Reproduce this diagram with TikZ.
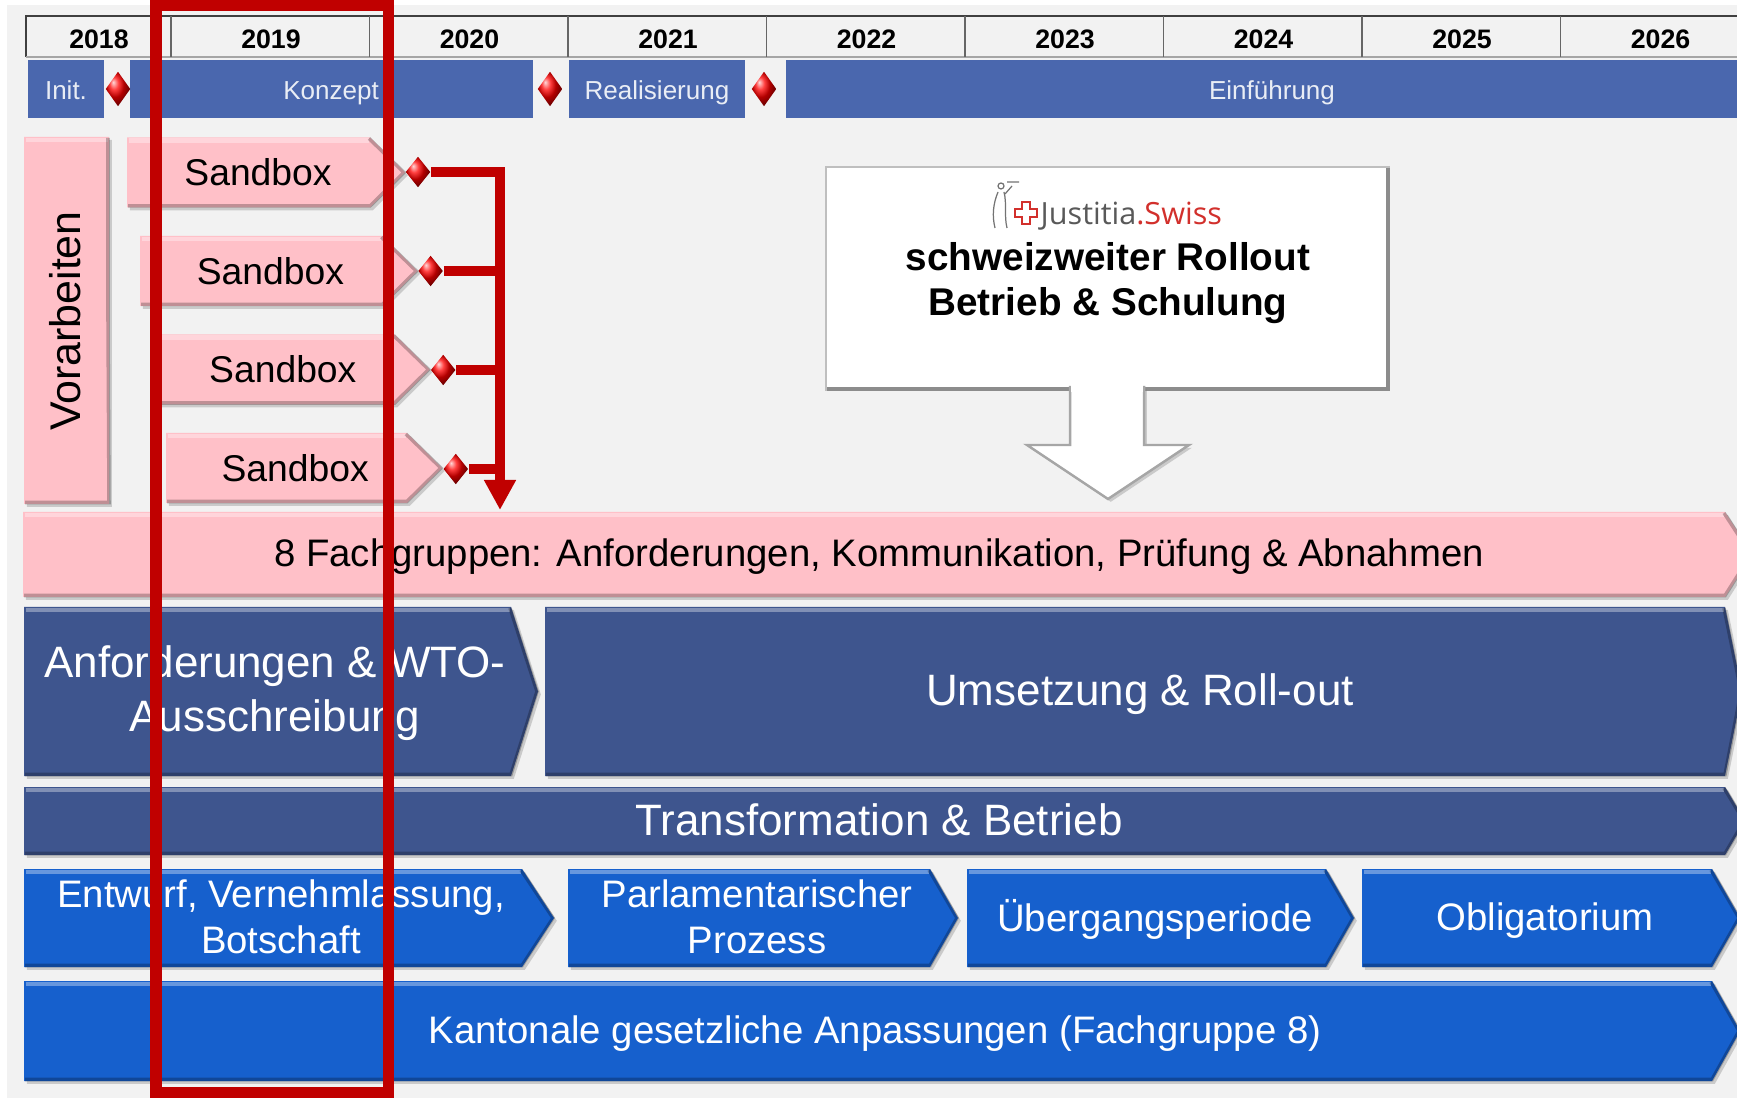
\documentclass[tikz,border=0pt]{standalone}
\usepackage{fontspec}
\setmainfont{Liberation Sans}
\newfontfamily\logofont{Open Sans}
\usetikzlibrary{shapes.geometric,arrows.meta,shadows}

\definecolor{bggray}{HTML}{F2F2F2}
\definecolor{phaseblue}{HTML}{4A67AE}
\definecolor{darkblue}{HTML}{3E558E}
\definecolor{midblue}{HTML}{1660CD}
\definecolor{barpink}{HTML}{FFC0C8}
\definecolor{framered}{HTML}{C00000}
\definecolor{logored}{HTML}{D2302C}

% bar with arrow tip: style, x1, y1, body end, y2, tip
\newcommand{\chevbar}[6]{%
  \fill[#1] (#2,#3) -- (#4,#3) -- (#6,{(#3+#5)/2}) -- (#4,#5) -- (#2,#5) -- cycle;
  \draw[hilite] (#2+2,#3+3) -- (#4-1,#3+3);
  \draw[lolite] (#2+1,#5-1.5) -- (#4,#5-1.5) -- (#6-1,{(#3+#5)/2}) -- (#4-1,#3+1);
}

\begin{document}
\begin{tikzpicture}[x=0.01cm, y=-0.01cm,
  year/.style={font=\fontsize{7.6}{9}\selectfont\bfseries},
  phasebox/.style={fill=phaseblue},
  phaselbl/.style={text=white!88!phaseblue, font=\fontsize{7.4}{9}\selectfont},
  shadowed/.style={drop shadow={shadow xshift=0.8pt, shadow yshift=-0.8pt, opacity=0.35}},
  pinkbar/.style={fill=barpink, shadowed},
  navybar/.style={fill=darkblue, shadowed},
  bluebar/.style={fill=midblue, shadowed},
  hilite/.style={white, opacity=0.35, line width=1.2pt},
  lolite/.style={black, opacity=0.25, line width=1pt},
  lbl/.style={font=\fontsize{10.9}{13.1}\selectfont, align=center},
  biglbl/.style={font=\fontsize{12.5}{15.4}\selectfont, align=center},
  gem/.style={diamond, shading=ball, ball color=red, minimum width=0.25cm, minimum height=0.31cm, inner sep=0pt},
  bracket/.style={framered, line width=0.1cm}]
  \useasboundingbox (0,0) rectangle (1737,1098);
  \clip (0,0) rectangle (1737,1098);
  \fill[white] (0,0) rectangle (1737,1098);
  \fill[bggray] (7,5) rectangle (1737,1098);

  % years
  \draw[black!75, line width=0.7pt] (26,57) -- (26,16) -- (1737,16);
  \draw[black!35, line width=0.5pt] (26,57) -- (1737,57);
  \foreach \k in {0,...,7}
    \draw[black!60, line width=0.5pt] (171+198.5*\k,16) -- (171+198.5*\k,57);
  \node[year] (y2018) at (99,39) {2018};
  \foreach \yr [count=\k from 0] in {2019,...,2026}
    \node[year] (y\yr) at (271+198.5*\k,39) {\yr};

  % phases
  \fill[phasebox] (28,60) rectangle (104,118);
  \fill[phasebox] (130,60) rectangle (533,118);
  \fill[phasebox] (569,60) rectangle (745,118);
  \fill[phasebox] (786,60) rectangle (1737,118);
  \node[phaselbl] (init) at (66,90) {Init.};
  \node[phaselbl] (konzept) at (331,93) {Konzept};
  \node[phaselbl] (real) at (657,93) {Realisierung};
  \node[phaselbl] (einf) at (1272,93) {Einführung};
  \node[gem, minimum height=0.35cm] (m1) at (118,89) {};
  \node[gem, minimum height=0.35cm] (m2) at (550,89) {};
  \node[gem, minimum height=0.35cm] (m3) at (764,89) {};

  % Vorarbeiten and sandboxes
  \chevbar{pinkbar}{24}{137}{109}{504}{109}
  \node[font=\fontsize{12.2}{14}\selectfont, rotate=90] (vor) at (65,321) {Vorarbeiten};
  \foreach \i in {0,...,3} {
    \chevbar{pinkbar}{127+13*\i}{137.5+98.5*\i}{370+12.3*\i}{207.5+98.5*\i}{405+12.3*\i}
    \node[font=\fontsize{10.6}{12}\selectfont] (sb\i) at (258+12.4*\i,172+98.8*\i) {Sandbox};
    \node[gem] (g\i) at (418+12.6*\i,172+99*\i) {};
    \coordinate (j\i) at (500,172+99*\i);
  }
  \coordinate (jend) at (500,510);
  % edges
  \foreach \i in {1,2,3}
    \draw[bracket] (g\i.east) -- (j\i);
  \draw[bracket, -{Triangle[width=0.3cm, length=0.3cm]}] (g0.east) -- (j0) -- (jend);

  % rollout box
  \filldraw[fill=white, draw=black!25, line width=0.6pt] (826,167) rectangle (1389,390);
  \draw[black!45, line width=1.4pt] (827,389) -- (1388,389) -- (1388,168);
  \filldraw[fill=white, draw=black!35, line width=0.7pt, shadowed]
    (1070,386) -- (1070,445) -- (1027,445) -- (1108,499) -- (1189,445) -- (1144,445) -- (1144,386);
  \fill[white] (1071,380) rectangle (1143,392);
  \begin{scope}[shift={(1026,213)}]
    \draw[logored, line width=0.6pt] (-4,-11) -- (4,-11) -- (4,-4) -- (11,-4) -- (11,4) -- (4,4)
      -- (4,11) -- (-4,11) -- (-4,4) -- (-11,4) -- (-11,-4) -- (-4,-4) -- cycle;
  \end{scope}
  \draw[black!55, line width=0.35pt] (1001,186) circle (3);
  \draw[black!55, line width=0.35pt] (998,192) .. controls (993,204) and (992,216) .. (995,228);
  \draw[black!55, line width=0.35pt] (1004,192) .. controls (1007,204) and (1004,216) .. (1007,228);
  \draw[black!55, line width=0.35pt] (1005,194) -- (1012,186) (1007,182) -- (1019,182);
  \node[font=\logofont\fontsize{8.7}{10}\selectfont, anchor=west, inner sep=0pt] (logo) at (1040,216)
    {\textcolor{black!65}{Justitia}\textcolor{logored}{.Swiss}};
  \node[font=\fontsize{11}{12.8}\selectfont\bfseries, align=center] (rollout) at (1108,283)
    {schweizweiter Rollout\\Betrieb \& Schulung};

  % work streams
  \chevbar{pinkbar}{23}{512}{1725}{597}{1752}
  \node[lbl] (fach) at (879,557) {8 Fachgruppen: Anforderungen, Kommunikation, Prüfung \& Abnahmen};
  \chevbar{navybar}{24}{607}{511}{776}{538}
  \node[biglbl, text=white] (anf) at (275,693) {Anforderungen \& WTO-\\Ausschreibung};
  \chevbar{navybar}{545}{607}{1725}{776}{1742}
  \node[biglbl, text=white] (ums) at (1140,694) {Umsetzung \& Roll-out};
  \chevbar{navybar}{24}{787}{1725}{855}{1745}
  \node[biglbl, text=white] (trans) at (879,820) {Transformation \& Betrieb};
  \chevbar{bluebar}{24}{869}{522}{967}{554}
  \node[lbl, text=white] (entw) at (281,917) {Entwurf, Vernehmlassung,\\Botschaft};
  \chevbar{bluebar}{568}{869}{930}{967}{958}
  \node[lbl, text=white] (parl) at (757,917) {Parlamentarischer\\Prozess};
  \chevbar{bluebar}{967}{869}{1326}{967}{1354}
  \node[lbl, text=white] (ueb) at (1155,919) {Übergangsperiode};
  \chevbar{bluebar}{1362}{869}{1712}{967}{1740}
  \node[lbl, text=white] (obl) at (1545,921) {Obligatorium};
  \chevbar{bluebar}{24}{981}{1712}{1081}{1740}
  \node[lbl, text=white] (kant) at (875,1034) {Kantonale gesetzliche Anpassungen (Fachgruppe 8)};

  % focus frame
  \draw[framered, line width=0.11cm] (156,6) rectangle (388,1092);
\end{tikzpicture}
\end{document}
